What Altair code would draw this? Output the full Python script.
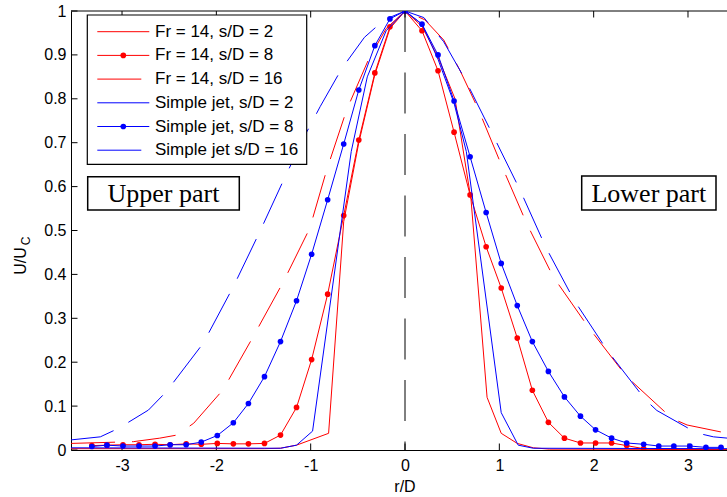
import altair as alt
import pandas as pd

# ---------------- data ----------------
x_ticks = [-3, -2, -1, 0, 1, 2, 3]
y_ticks = [0, 0.1, 0.2, 0.3, 0.4, 0.5, 0.6, 0.7, 0.8, 0.9, 1]

# s/D = 8 profiles (with markers) share one r/D grid
x_dots = [-3.32, -3.16, -2.99, -2.82, -2.65, -2.49, -2.32, -2.16, -1.99, -1.82,
          -1.66, -1.49, -1.32, -1.15, -0.99, -0.82, -0.65, -0.49, -0.32, -0.16,
          0.0,
          0.18, 0.35, 0.52, 0.69, 0.86, 1.02, 1.19, 1.35, 1.52, 1.69,
          1.86, 2.02, 2.19, 2.35, 2.53, 2.69, 2.85, 3.02, 3.19, 3.35]
fr_sd8_y = [0.010, 0.011, 0.012, 0.012, 0.013, 0.012, 0.014, 0.013, 0.015, 0.014,
            0.014, 0.015, 0.034, 0.097, 0.206, 0.355, 0.534, 0.706, 0.859, 0.964,
            1.0,
            0.955, 0.864, 0.724, 0.581, 0.463, 0.369, 0.255, 0.136, 0.063, 0.027,
            0.016, 0.016, 0.016, 0.010, 0.003, 0.002, 0.002, 0.002, 0.001, 0.001]
sj_sd8_y = [0.008, 0.011, 0.009, 0.009, 0.009, 0.012, 0.012, 0.018, 0.033, 0.062,
            0.106, 0.167, 0.247, 0.340, 0.446, 0.570, 0.697, 0.820, 0.921, 0.982,
            1.0,
            0.970, 0.900, 0.795, 0.668, 0.541, 0.425, 0.329, 0.247, 0.179, 0.121,
            0.077, 0.046, 0.027, 0.016, 0.013, 0.009, 0.009, 0.009, 0.006, 0.006]

fr_sd2_x = [-3.54, -1.49, -1.32, -1.15, -0.81, -0.65, -0.49, -0.32, -0.16, 0.0,
            0.18, 0.35, 0.53, 0.70, 0.87, 1.02, 1.19, 1.36, 1.53, 3.42]
fr_sd2_y = [0.003, 0.003, 0.004, 0.011, 0.038, 0.52, 0.70, 0.855, 0.96, 1.0,
            0.965, 0.895, 0.80, 0.57, 0.12, 0.038, 0.015, 0.005, 0.002, 0.001]

sj_sd2_x = [-3.54, -1.32, -1.15, -0.98, -0.57, -0.40, -0.20, 0.0,
            0.18, 0.35, 0.52, 0.65, 1.02, 1.20, 1.36, 3.42]
sj_sd2_y = [0.005, 0.004, 0.011, 0.043, 0.68, 0.85, 0.955, 1.0,
            0.97, 0.89, 0.79, 0.68, 0.085, 0.011, 0.004, 0.003]

fr_sd16_x = [-3.54, -2.88, -2.60, -2.42, -2.24, -1.93, -1.61, -1.29, -1.01, -0.83,
             -0.62, -0.39, -0.20, 0.0, 0.21, 0.41, 0.58, 0.78, 1.03, 1.29,
             1.57, 1.94, 2.35, 2.83, 2.99, 3.42]
fr_sd16_y = [0.015, 0.019, 0.027, 0.034, 0.061, 0.137, 0.258, 0.383, 0.505, 0.638,
             0.774, 0.888, 0.96, 1.0, 0.98, 0.934, 0.866, 0.775, 0.645, 0.516,
             0.395, 0.281, 0.167, 0.072, 0.057, 0.038]

sj_sd16_x = [-3.54, -3.23, -3.04, -2.72, -2.53, -2.14, -1.82, -1.54, -1.27, -1.04,
             -0.90, -0.67, -0.43, -0.22, 0.0, 0.20, 0.41, 0.64, 0.94, 1.22,
             1.49, 1.79, 2.14, 2.55, 2.67, 3.09, 3.27, 3.42]
sj_sd16_y = [0.023, 0.030, 0.049, 0.091, 0.133, 0.243, 0.372, 0.497, 0.623, 0.725,
             0.782, 0.869, 0.94, 0.98, 1.0, 0.985, 0.93, 0.843, 0.714, 0.592,
             0.463, 0.342, 0.228, 0.114, 0.09, 0.039, 0.030, 0.027]

labels = ["Fr = 14, s/D = 2", "Fr = 14, s/D = 8", "Fr = 14, s/D = 16",
          "Simple jet, s/D = 2", "Simple jet, s/D = 8", "Simple jet s/D = 16"]

# ---------------- layout / style ----------------
W, H = 656, 439
RED, BLUE = "#ff0000", "#0000ff"
DASH = [44, 17]
FONT = "Liberation Sans"
SERIF = "Liberation Serif"
TICK = 6.5

xs = alt.Scale(domain=[-3.541, 3.4135], nice=False, zero=False)
ys = alt.Scale(domain=[0, 1], nice=False, zero=False)

x_axis = alt.Axis(values=x_ticks, tickSize=0, labelPadding=7, grid=False, title=None,
                  domainColor="black", domainWidth=1, labelColor="black",
                  labelFont=FONT, labelFontSize=16, labelExpr="'' + datum.value")
y_axis = alt.Axis(values=y_ticks, tickSize=0, labelPadding=5, grid=False, title=None,
                  domainColor="black", domainWidth=1, labelColor="black",
                  labelFont=FONT, labelFontSize=16, labelExpr="'' + datum.value")


def X(f):
    return alt.X(f, type="quantitative", scale=xs, axis=x_axis)


def Y(f):
    return alt.Y(f, type="quantitative", scale=ys, axis=y_axis)


series = [
    (fr_sd2_x, fr_sd2_y, RED, None, False),
    (x_dots, fr_sd8_y, RED, None, True),
    (fr_sd16_x, fr_sd16_y, RED, DASH, False),
    (sj_sd2_x, sj_sd2_y, BLUE, None, False),
    (x_dots, sj_sd8_y, BLUE, None, True),
    (sj_sd16_x, sj_sd16_y, BLUE, DASH, False),
]

one = pd.DataFrame({"k": [0]})   # single row for decorations
layers = []

# ticks (inward, MATLAB style) + axes
xt = pd.DataFrame({"v": x_ticks})
yt = pd.DataFrame({"v": y_ticks})
layers.append(alt.Chart(xt).mark_rule(color="black", strokeWidth=1).encode(
    x=X("v"), y=alt.value(H), y2=alt.value(H - TICK)))
layers.append(alt.Chart(xt).mark_rule(color="black", strokeWidth=1).encode(
    x=X("v"), y=alt.value(0), y2=alt.value(TICK)))
layers.append(alt.Chart(yt).mark_rule(color="black", strokeWidth=1).encode(
    y=Y("v"), x=alt.value(0), x2=alt.value(TICK)))

# top border
layers.append(alt.Chart(one).mark_rule(color="black", strokeWidth=1).encode(
    x=alt.value(0), x2=alt.value(W), y=alt.value(0)))

# curves
for i, (sx, sy, col, dash, dots) in enumerate(series):
    df = pd.DataFrame({"x": sx, "y": sy, "o": list(range(len(sx)))})
    kw = dict(color=col, strokeWidth=1, clip=True)
    if dash:
        kw["strokeDash"] = dash
    layers.append(alt.Chart(df).mark_line(**kw).encode(
        x=X("x"), y=Y("y"), order="o:Q"))
    if dots:
        layers.append(alt.Chart(df).mark_circle(color=col, size=32, opacity=1, clip=True).encode(
            x=X("x"), y=Y("y")))

# centre line r/D = 0
layers.append(alt.Chart(one).mark_rule(color="black", strokeWidth=1, strokeDash=[41, 20.5]).encode(
    x=alt.datum(0, scale=xs), y=alt.datum(1, scale=ys), y2=alt.datum(0)))

# legend box
LX0, LX1, LY0, LY1 = 16.3, 235.7, 4, 153.3
layers.append(alt.Chart(one).mark_rect(fill="white", stroke="black", strokeWidth=1.2).encode(
    x=alt.value(LX0), x2=alt.value(LX1), y=alt.value(LY0), y2=alt.value(LY1)))
for i, (lab, (sx, sy, col, dash, dots)) in enumerate(zip(labels, series)):
    yy = 20.7 + 23.7 * i
    kw = dict(color=col, strokeWidth=1)
    if dash:
        kw["strokeDash"] = dash
    layers.append(alt.Chart(one).mark_rule(**kw).encode(
        x=alt.value(26.3), x2=alt.value(78.3), y=alt.value(yy)))
    if dots:
        layers.append(alt.Chart(one).mark_circle(color=col, size=32, opacity=1).encode(
            x=alt.value(52.3), y=alt.value(yy)))
    layers.append(alt.Chart(one).mark_text(
        font=FONT, fontSize=17, align="left", baseline="middle", color="black").encode(
        x=alt.value(84), y=alt.value(yy), text=alt.value(lab)))

# "Upper part" / "Lower part" boxes
for (x0, x1, y0, y1, txt) in [(16.7, 168.3, 165.7, 199, "Upper part"),
                              (510.7, 645, 165, 199, "Lower part")]:
    layers.append(alt.Chart(one).mark_rect(fill="white", stroke="black", strokeWidth=1.5).encode(
        x=alt.value(x0), x2=alt.value(x1), y=alt.value(y0), y2=alt.value(y1)))
    layers.append(alt.Chart(one).mark_text(
        font=SERIF, fontSize=26, align="center", baseline="middle", color="black").encode(
        x=alt.value((x0 + x1) / 2), y=alt.value((y0 + y1) / 2 + 1), text=alt.value(txt)))

# axis titles
layers.append(alt.Chart(one).mark_text(
    font=FONT, fontSize=16, align="center", baseline="middle", color="black").encode(
    x=alt.value(334), y=alt.value(476), text=alt.value("r/D")))
layers.append(alt.Chart(one).mark_text(
    font=FONT, fontSize=16, align="center", baseline="middle", color="black", angle=270).encode(
    x=alt.value(-50), y=alt.value(250), text=alt.value("U/U")))
layers.append(alt.Chart(one).mark_text(
    font=FONT, fontSize=12, align="center", baseline="middle", color="black", angle=270).encode(
    x=alt.value(-45), y=alt.value(230), text=alt.value("C")))

chart = alt.layer(*layers).properties(
    width=W, height=H,
    padding={"left": 71, "top": 11, "right": 0, "bottom": 47},
    autosize=alt.AutoSizeParams(type="none"),
    background="white",
).configure_view(stroke=None)

chart.save("out.html", embed_options={"renderer": "svg", "actions": False})
